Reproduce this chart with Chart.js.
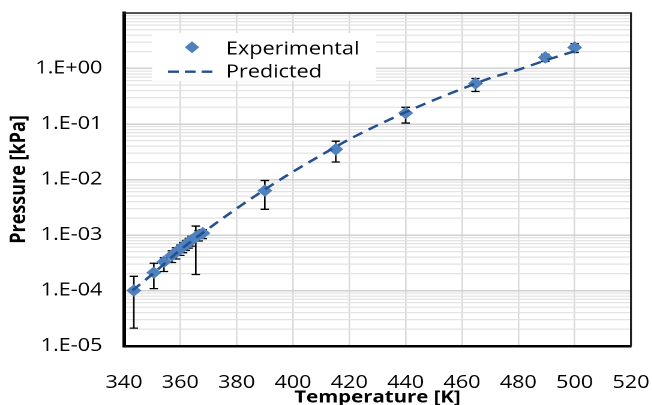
<!DOCTYPE html>
<html>
<head>
<meta charset="utf-8">
<script src="https://cdn.jsdelivr.net/npm/chart.js@4.4.1/dist/chart.umd.min.js"></script>
<style>
  html, body { margin: 0; padding: 0; background: #fff; overflow: hidden; }
  /* the reference is stretched sideways, so draw narrow and widen it */
  #wrap { width: 543px; height: 408px; transform: scaleX(1.2); transform-origin: 0 0; }
</style>
</head>
<body>
<div id="wrap"><canvas id="vpChart" width="543" height="408"></canvas></div>
<script>
// experimental points (temperature K, pressure kPa) with error bar limits
var expTemp = [343.5, 350.6, 354.2, 357, 358.5, 360, 361, 362, 363, 364, 365.5, 366.5, 368, 390, 415.2, 440, 464.8, 489.6, 500];
var expPress = [1.0e-4, 2.1e-4, 3.3e-4, 4.3e-4, 4.9e-4, 5.6e-4, 6.2e-4, 6.8e-4, 7.4e-4, 8.1e-4, 9.2e-4, 1.0e-3, 1.08e-3, 6.3e-3, 0.035, 0.158, 0.537, 1.58, 2.39];
var errLow = [2.1e-5, 1.08e-4, 2.2e-4, 3.2e-4, 3.7e-4, 4.3e-4, 4.8e-4, 5.3e-4, 5.8e-4, 6.3e-4, 1.94e-4, 7.8e-4, 8.6e-4, 2.9e-3, 0.0207, 0.104, 0.385, 1.34, 1.94];
var errHigh = [1.8e-4, 3.1e-4, 3.9e-4, 5.2e-4, 5.9e-4, 6.6e-4, 7.3e-4, 8.0e-4, 8.7e-4, 9.5e-4, 1.45e-3, 1.2e-3, 1.25e-3, 9.6e-3, 0.049, 0.2, 0.66, 1.8, 2.8];

// predicted curve
var predTemp = [343, 350, 360, 370, 380, 390, 400, 410, 420, 430, 440, 450, 460, 470, 480, 490, 500];
var predPress = [1.0e-4, 1.95e-4, 5.4e-4, 1.3e-3, 3.0e-3, 6.6e-3, 0.0138, 0.0275, 0.053, 0.095, 0.163, 0.27, 0.43, 0.67, 0.95, 1.42, 2.05];

// axis ticks
var tempTicks = [340, 360, 380, 400, 420, 440, 460, 480, 500, 520];
var pressDecades = [-5, -4, -3, -2, -1, 0, 1];
var seriesNames = ['Experimental', 'Predicted'];

var expColor = '#4f81bd';
var predColor = '#25508f';

function toPoints(xs, ys) {
    var out = [];
    for (var i = 0; i < xs.length; i++) out.push({x: xs[i], y: ys[i]});
    return out;
}

function sciLabel(v) {
    var e = Math.round(Math.log10(v));
    if (e >= 1) return '';
    var a = Math.abs(e);
    return '1.E' + (e < 0 ? '-' : '+') + (a < 10 ? '0' + a : a);
}

function isDecade(v) {
    var l = Math.log10(v);
    return Math.abs(l - Math.round(l)) < 1e-9;
}

var errorBars = {
    id: 'errorBars',
    beforeDatasetsDraw: function(chart) {
        var ctx = chart.ctx;
        var xs = chart.scales.x, ys = chart.scales.y;
        ctx.save();
        ctx.strokeStyle = '#000';
        ctx.lineWidth = 1.3;
        for (var i = 0; i < expTemp.length; i++) {
            var px = xs.getPixelForValue(expTemp[i]);
            var yl = ys.getPixelForValue(errLow[i]);
            var yh = ys.getPixelForValue(errHigh[i]);
            ctx.beginPath();
            ctx.moveTo(px, yl); ctx.lineTo(px, yh);
            ctx.moveTo(px - 3.5, yl); ctx.lineTo(px + 3.5, yl);
            ctx.moveTo(px - 3.5, yh); ctx.lineTo(px + 3.5, yh);
            ctx.stroke();
        }
        ctx.restore();
    }
};

var frameAndLegend = {
    id: 'frameAndLegend',
    beforeDatasetsDraw: function(chart) {
        var ctx = chart.ctx;
        var ca = chart.chartArea;
        ctx.save();
        // legend box inside plot
        var bx = ca.left + 23.4, by = ca.top + 20;
        ctx.fillStyle = '#fff';
        ctx.fillRect(bx, by, 186.6, 48);
        // diamond marker
        var dx = bx + 33.3, dy = by + 14.3;
        ctx.fillStyle = expColor;
        ctx.beginPath();
        ctx.moveTo(dx - 6, dy); ctx.lineTo(dx, dy - 6); ctx.lineTo(dx + 6, dy); ctx.lineTo(dx, dy + 6);
        ctx.closePath();
        ctx.fill();
        // dashed sample
        ctx.strokeStyle = predColor;
        ctx.lineWidth = 2.4;
        ctx.setLineDash([9, 5]);
        ctx.beginPath();
        ctx.moveTo(bx + 13.3, by + 38.7); ctx.lineTo(bx + 54.1, by + 38.7);
        ctx.stroke();
        ctx.setLineDash([]);
        ctx.fillStyle = '#000';
        ctx.font = '18px "Open Sans"';
        ctx.textBaseline = 'alphabetic';
        ctx.fillText(seriesNames[0], bx + 61.6, by + 21.3);
        ctx.fillText(seriesNames[1], bx + 61.6, by + 44.7);
        ctx.restore();
    },
    afterDraw: function(chart) {
        var ctx = chart.ctx;
        var ca = chart.chartArea;
        ctx.save();
        ctx.strokeStyle = '#222';
        ctx.lineWidth = 1.6;
        ctx.beginPath();
        ctx.moveTo(ca.left, ca.top); ctx.lineTo(ca.right, ca.top); ctx.lineTo(ca.right, ca.bottom);
        ctx.stroke();
        ctx.restore();
    }
};

Chart.defaults.font.family = '"Open Sans", sans-serif';
Chart.defaults.color = '#000';

var config = {
    type: 'scatter',
    data: {
        datasets: [{
            label: seriesNames[0],
            data: toPoints(expTemp, expPress),
            pointStyle: 'rectRot',
            pointRadius: 6.3,
            pointBorderWidth: 0,
            backgroundColor: expColor,
            borderColor: expColor,
            order: 2
        }, {
            label: seriesNames[1],
            data: toPoints(predTemp, predPress),
            showLine: true,
            pointRadius: 0,
            borderColor: predColor,
            borderWidth: 2.4,
            borderDash: [9, 6],
            cubicInterpolationMode: 'monotone',
            order: 1
        }]
    },
    options: {
        responsive: false,
        animation: false,
        devicePixelRatio: 2,
        layout: { padding: { left: 0, top: 13, right: 17.2, bottom: 0 } },
        plugins: { legend: { display: false }, tooltip: { enabled: false } },
        scales: {
            x: {
                type: 'linear',
                min: 340,
                max: 520,
                afterBuildTicks: function(scale) {
                    scale.ticks = tempTicks.map(function(v) { return {value: v}; });
                },
                afterFit: function(scale) {
                    scale.height = 408 - 346;
                    scale.paddingLeft = 0;
                    scale.paddingRight = 0;
                },
                ticks: { padding: 26, font: { size: 18 }, color: '#000' },
                grid: { color: '#d9d9d9', lineWidth: 1.3, drawTicks: false },
                border: { color: '#000', width: 2.5 },
                title: {
                    display: true,
                    text: 'Temperature [K]',
                    font: { size: 17, weight: 'bold' },
                    color: '#000',
                    padding: { top: 0, bottom: 0 }
                }
            },
            y: {
                type: 'logarithmic',
                min: 1e-5,
                max: 10,
                afterBuildTicks: function(scale) {
                    var t = [];
                    for (var i = 0; i < pressDecades.length; i++) {
                        var base = Math.pow(10, pressDecades[i]);
                        var last = pressDecades[i] === 1 ? 1 : 9;
                        for (var m = 1; m <= last; m++) t.push({value: m * base});
                    }
                    scale.ticks = t;
                },
                afterFit: function(scale) {
                    scale.width = 103.3;
                    scale.paddingTop = 0;
                    scale.paddingBottom = 0;
                },
                ticks: {
                    autoSkip: false,
                    padding: 18,
                    font: { size: 18 },
                    color: '#000',
                    callback: function(v) { return isDecade(v) ? sciLabel(v) : ''; }
                },
                grid: {
                    drawTicks: false,
                    color: function(c) { return c.tick && isDecade(c.tick.value) ? '#d0d0d0' : '#e3e3e3'; },
                    lineWidth: function(c) { return c.tick && isDecade(c.tick.value) ? 1.5 : 1.2; }
                },
                border: { color: '#000', width: 3 },
                title: {
                    display: true,
                    text: 'Pressure [kPa]',
                    font: { size: 18, weight: 'bold' },
                    color: '#000',
                    padding: { top: 5, bottom: 0 }
                }
            }
        }
    },
    plugins: [frameAndLegend, errorBars]
};

new Chart(document.getElementById('vpChart'), config);
</script>
</body>
</html>
